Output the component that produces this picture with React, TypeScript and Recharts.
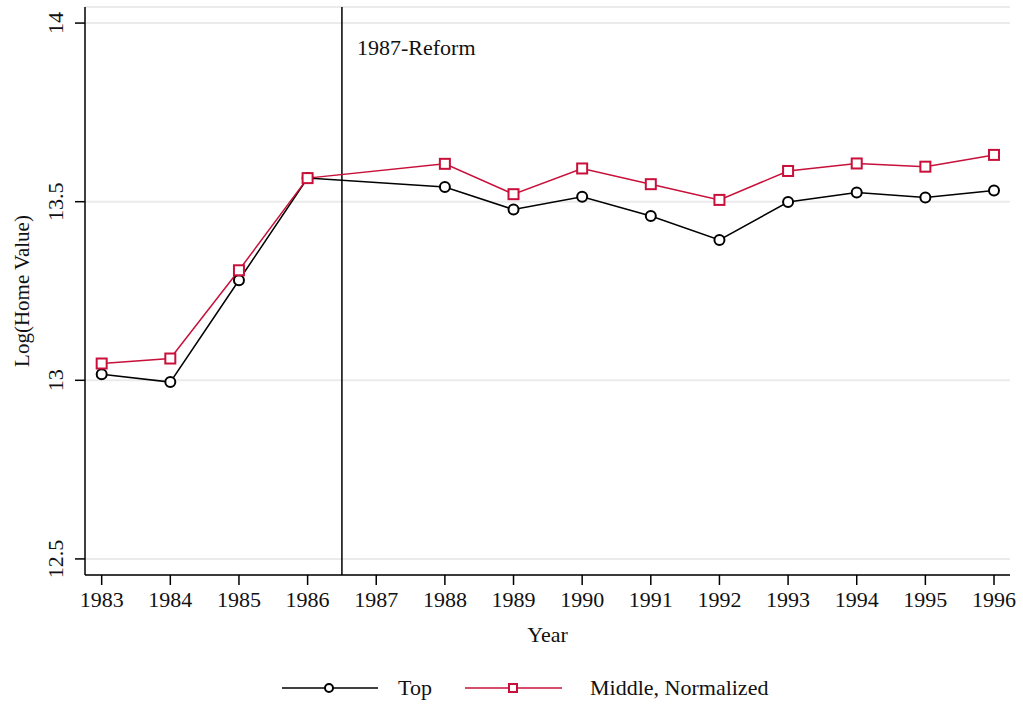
import React from 'react';
import { LineChart, Line, XAxis, YAxis, CartesianGrid, ReferenceLine } from 'recharts';

const years = [1983, 1984, 1985, 1986, 1988, 1989, 1990, 1991, 1992, 1993, 1994, 1995, 1996];
const topValues = [13.017, 12.995, 13.28, 13.566, 13.541, 13.478, 13.514, 13.46, 13.393, 13.499, 13.526, 13.512, 13.531];
const middleValues = [13.047, 13.061, 13.308, 13.566, 13.606, 13.521, 13.593, 13.549, 13.505, 13.586, 13.607, 13.598, 13.631];
const xTicks = [1983, 1984, 1985, 1986, 1987, 1988, 1989, 1990, 1991, 1992, 1993, 1994, 1995, 1996];
const yTicks = [12.5, 13, 13.5, 14];
const reformYear = 1986.5;

const data = years.map((year, i) => ({ year, top: topValues[i], middle: middleValues[i] }));

const FONT = '"Liberation Serif", serif';
const RED = '#c8103a';

const YTick = (props: any) => {
  const { x, y, payload } = props;
  return (
    <g>
      <line x1={x + 2} x2={x + 12} y1={y} y2={y} stroke="#000" strokeWidth={1.5} />
      <text
        transform={`translate(${x - 10}, ${y}) rotate(-90)`}
        textAnchor="middle"
        fontFamily={FONT}
        fontSize={22}
        fill="#111"
      >
        {payload.value}
      </text>
    </g>
  );
};

const XTick = (props: any) => {
  const { x, y, payload } = props;
  return (
    <text x={x} y={y + 20} textAnchor="middle" fontFamily={FONT} fontSize={22} fill="#111">
      {payload.value}
    </text>
  );
};

const Square = (props: any) => {
  const { cx, cy, index } = props;
  return <rect key={`sq-${index}`} x={cx - 5} y={cy - 5} width={10} height={10} fill="#fff" stroke={RED} strokeWidth={2} />;
};

const Circle = (props: any) => {
  const { cx, cy, index } = props;
  return <circle key={`ci-${index}`} cx={cx} cy={cy} r={5} fill="#fff" stroke="#000" strokeWidth={2} />;
};

const Legend = () => (
  <svg width={1023} height={40} style={{ position: 'absolute', left: 0, top: 668 }}>
    <line x1={282} x2={378} y1={20} y2={20} stroke="#000" strokeWidth={1.5} />
    <circle cx={329} cy={20} r={4} fill="#fff" stroke="#000" strokeWidth={2} />
    <text x={398} y={27} fontFamily={FONT} fontSize={22} fill="#111">Top</text>
    <line x1={465} x2={562} y1={20} y2={20} stroke={RED} strokeWidth={1.5} />
    <rect x={509} y={16} width={8} height={8} fill="#fff" stroke={RED} strokeWidth={2} />
    <text x={590} y={27} fontFamily={FONT} fontSize={22} fill="#111">Middle, Normalized</text>
  </svg>
);

export default function App() {
  return (
    <div style={{ position: 'fixed', left: 0, top: 0, width: 1023, height: 706, background: '#fff' }}>
      <LineChart width={1023} height={706} data={data} margin={{ top: 7, right: 13, left: 0, bottom: 71 }}>
        <CartesianGrid horizontal vertical={false} stroke="#ebebeb" strokeWidth={2} />
        <XAxis
          dataKey="year"
          type="number"
          domain={[1982.757, 1996.233]}
          ticks={xTicks}
          interval={0}
          height={60}
          tick={<XTick />}
          tickLine={{ stroke: '#000', strokeWidth: 1.5 }}
          tickSize={10}
          axisLine={{ stroke: '#000', strokeWidth: 1.5 }}
          label={(p: any) => (
            <text x={547.5} y={642} textAnchor="middle" fontFamily={FONT} fontSize={22} fill="#111">Year</text>
          )}
        />
        <YAxis
          type="number"
          domain={[12.455, 14.045]}
          ticks={yTicks}
          interval={0}
          width={85}
          tick={<YTick />}
          tickLine={false}
          tickSize={10}
          axisLine={{ stroke: '#000', strokeWidth: 1.5 }}
          label={(p: any) => (
            <text
              transform="translate(29, 291) rotate(-90)"
              textAnchor="middle"
              fontFamily={FONT}
              fontSize={21}
              fill="#111"
            >
              Log(Home Value)
            </text>
          )}
        />
        <ReferenceLine
          x={reformYear}
          stroke="#000"
          strokeWidth={1.5}
          label={(p: any) => (
            <text x={357} y={55} fontFamily={FONT} fontSize={22} fill="#111">1987-Reform</text>
          )}
        />
        <Line
          dataKey="top"
          stroke="#000"
          strokeWidth={1.5}
          dot={<Circle />}
          activeDot={false}
          isAnimationActive={false}
        />
        <Line
          dataKey="middle"
          stroke={RED}
          strokeWidth={1.5}
          dot={<Square />}
          activeDot={false}
          isAnimationActive={false}
        />
      </LineChart>
      <Legend />
    </div>
  );
}
